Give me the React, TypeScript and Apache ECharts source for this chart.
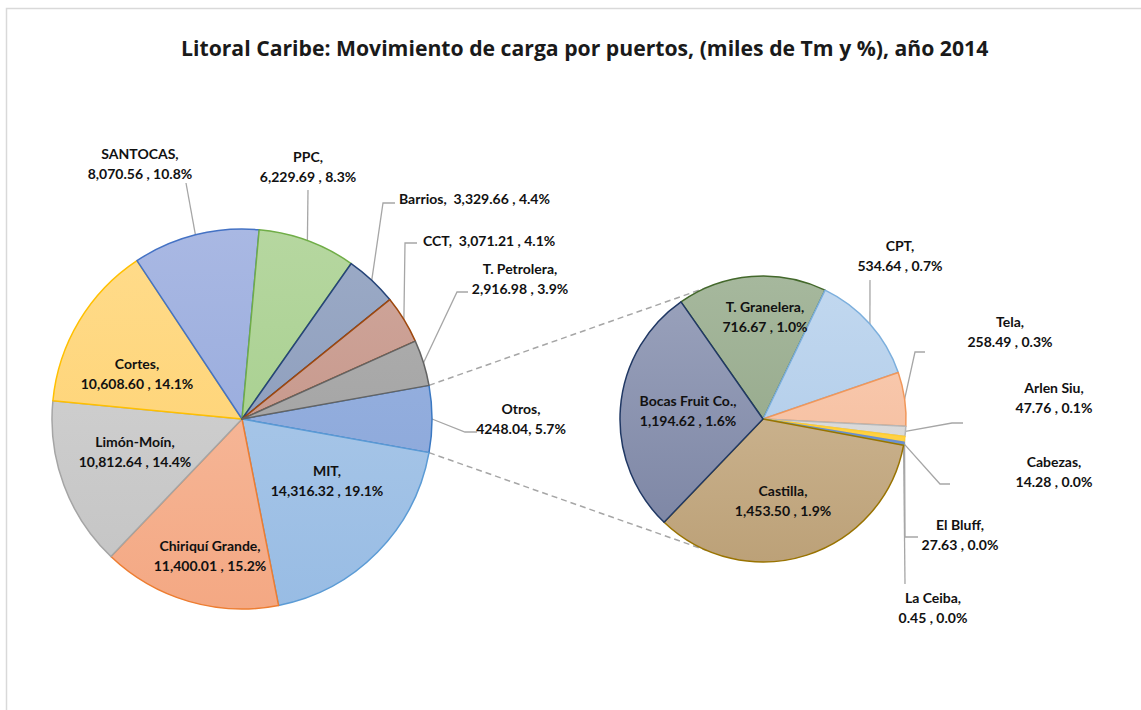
import React, { useEffect, useRef } from "react";
import * as echarts from "echarts";

const TITLE = "Litoral Caribe: Movimiento de carga por puertos, (miles de Tm y %), año 2014";

// Main pie (clockwise from the "Otros" slice)
const mainNames = ["Otros", "MIT", "Chiriquí Grande", "Limón-Moín", "Cortes", "SANTOCAS", "PPC", "Barrios", "CCT", "T. Petrolera"];
const mainValues = [4248.04, 14316.32, 11400.01, 10812.64, 10608.6, 8070.56, 6229.69, 3329.66, 3071.21, 2916.98];

// Second pie: breakdown of "Otros" (clockwise)
const subNames = ["T. Granelera", "CPT", "Tela", "Arlen Siu", "El Bluff", "Cabezas", "La Ceiba", "Castilla", "Bocas Fruit Co."];
const subValues = [716.67, 534.64, 258.49, 47.76, 27.63, 14.28, 0.45, 1453.5, 1194.62];

// ---- layout & style (not data) ----
const W = 1141, H = 710;
const MC = [242, 419], MR = 190;
const SC = [763, 419], SR = 143;
const SUB_START = 125;
const FONT = "Lato, 'Open Sans', sans-serif";

type Sty = { top: string; bottom: string; border: string };
const styles: Record<string, Sty> = {
  "Otros": { top: "#9cb5e1", bottom: "#86a3d8", border: "#3a78c2" },
  "MIT": { top: "#b2cdea", bottom: "#98bce4", border: "#5b9bd5" },
  "Chiriquí Grande": { top: "#f7c2a8", bottom: "#f4a883", border: "#ed7d31" },
  "Limón-Moín": { top: "#d6d6d6", bottom: "#c3c3c3", border: "#a5a5a5" },
  "Cortes": { top: "#ffdc8c", bottom: "#fecf6a", border: "#ffc000" },
  "SANTOCAS": { top: "#a9b8e3", bottom: "#8ea4d9", border: "#4472c4" },
  "PPC": { top: "#b6d7a0", bottom: "#9ecb84", border: "#70ad47" },
  "Barrios": { top: "#9cabc7", bottom: "#8495b5", border: "#264478" },
  "CCT": { top: "#d0a89d", bottom: "#c08c7f", border: "#9e480e" },
  "T. Petrolera": { top: "#b1b1b1", bottom: "#9b9b9b", border: "#636363" },
  "T. Granelera": { top: "#a6b89d", bottom: "#8da182", border: "#43682b" },
  "CPT": { top: "#c2d8ef", bottom: "#aac8e8", border: "#7cafdd" },
  "Tela": { top: "#f9cfb7", bottom: "#f5b794", border: "#f1975a" },
  "Arlen Siu": { top: "#e0e0e0", bottom: "#d4d4d4", border: "#b7b7b7" },
  "El Bluff": { top: "#ffd656", bottom: "#ffcd33", border: "#ffcd33" },
  "Cabezas": { top: "#7396d3", bottom: "#698ed0", border: "#698ed0" },
  "La Ceiba": { top: "#93c570", bottom: "#8cc168", border: "#8cc168" },
  "Castilla": { top: "#d6c09f", bottom: "#bca178", border: "#997300" },
  "Bocas Fruit Co.": { top: "#9ba3bd", bottom: "#7a83a2", border: "#203864" },
};

// label anchor, and leader end offset (ex, ey) relative to the anchor, with an optional horizontal elbow
type LP = { x: number; y: number; align?: "left" | "center"; inside?: boolean; oneLine?: boolean; ex?: number; ey?: number; elbow?: number };
const labelPos: Record<string, LP> = {
  "SANTOCAS": { x: 140, y: 163, ex: 46, ey: 20 },
  "PPC": { x: 308, y: 166, ex: 0, ey: 24 },
  "Barrios": { x: 399, y: 198, align: "left", oneLine: true, ex: -4, ey: 5, elbow: 12 },
  "CCT": { x: 423, y: 240, align: "left", oneLine: true, ex: -6, ey: 3, elbow: 12 },
  "T. Petrolera": { x: 520, y: 278, ex: -52, ey: 14, elbow: 11 },
  "Otros": { x: 521, y: 418, ex: -44, ey: 14, elbow: 12 },
  "Cortes": { x: 137, y: 373, inside: true },
  "Limón-Moín": { x: 135, y: 451, inside: true },
  "Chiriquí Grande": { x: 210, y: 555, inside: true },
  "MIT": { x: 327, y: 480, inside: true },
  "T. Granelera": { x: 765, y: 316, inside: true },
  "Bocas Fruit Co.": { x: 688, y: 410, inside: true },
  "Castilla": { x: 783, y: 500, inside: true },
  "CPT": { x: 900, y: 255, ex: -30, ey: 25 },
  "Tela": { x: 1010, y: 331, ex: -85, ey: 21, elbow: 10 },
  "Arlen Siu": { x: 1054, y: 397, ex: -91, ey: 26, elbow: 11 },
  "Cabezas": { x: 1054, y: 471, ex: -104, ey: 13, elbow: 10 },
  "El Bluff": { x: 960, y: 534, ex: -42, ey: 3, elbow: 13 },
  "La Ceiba": { x: 933, y: 607, ex: -28, ey: -23 },
};

const total = mainValues.reduce((a, b) => a + b, 0);
const fmt = (v: number) => v.toLocaleString("en-US", { minimumFractionDigits: 2, maximumFractionDigits: 2 });
const pct = (v: number) => ((v / total) * 100).toFixed(1) + "%";

function labelText(name: string, v: number) {
  const lp = labelPos[name];
  if (name === "Otros") return `${name},\n${v.toFixed(2)}, ${pct(v)}`;
  if (lp && lp.oneLine) return `${name},  ${fmt(v)} , ${pct(v)}`;
  return `${name},\n${fmt(v)} , ${pct(v)}`;
}

// mid angle (degrees, ECharts convention) of each slice, from the data
function midAngles(values: number[], start: number) {
  const sum = values.reduce((a, b) => a + b, 0);
  let a = start;
  return values.map((v) => {
    const span = (v / sum) * 360;
    const mid = a - span / 2;
    a -= span;
    return mid;
  });
}

function makeItems(names: string[], values: number[], c: number[], r: number) {
  return names.map((n, i) => {
    const s = styles[n];
    const lp = labelPos[n];
    return {
      name: n,
      value: values[i],
      itemStyle: {
        color: new echarts.graphic.LinearGradient(0, c[1] - r, 0, c[1] + r, [
          { offset: 0, color: s.top },
          { offset: 1, color: s.bottom },
        ], true),
        borderColor: s.border,
        borderWidth: 1.5,
      },
      label: { position: lp.inside ? "inside" : "outside" },
      labelLine: { show: !lp.inside },
    };
  });
}

function layoutFor(names: string[], values: number[], start: number, c: number[], r: number) {
  const mids = midAngles(values, start);
  return (p: any) => {
    const lp = labelPos[names[p.dataIndex]];
    const out: any = {
      x: lp.x,
      y: lp.y,
      align: lp.align || "center",
      verticalAlign: "middle",
      hideOverlap: false,
    };
    if (!lp.inside) {
      const t = (mids[p.dataIndex] * Math.PI) / 180;
      const edge = [c[0] + r * Math.cos(t), c[1] - r * Math.sin(t)];
      const end = [lp.x + (lp.ex || 0), lp.y + (lp.ey || 0)];
      const pts = [edge];
      if (lp.elbow) pts.push([end[0] - lp.elbow, end[1]]);
      pts.push(end);
      out.labelLinePoints = pts;
    }
    return out;
  };
}

export default function App() {
  const ref = useRef<HTMLDivElement>(null);
  useEffect(() => {
    if (!ref.current) return;
    const chart = echarts.init(ref.current, null, { renderer: "svg" });

    const otrosAng = (mainValues[0] / total) * 360;
    const mainStart = otrosAng / 2;
    const half = (mainStart * Math.PI) / 180;
    const phi = (113 * Math.PI) / 180;
    const conn = [1, -1].map((s) => ({
      type: "line",
      silent: true,
      z: 0,
      shape: {
        x1: MC[0] + MR * Math.cos(half),
        y1: MC[1] - s * MR * Math.sin(half),
        x2: SC[0] + SR * Math.cos(phi),
        y2: SC[1] - s * SR * Math.sin(phi),
      },
      style: { stroke: "#a6a6a6", lineWidth: 1.5, lineDash: [6, 4] },
    }));

    const labelBase = {
      show: true,
      formatter: (p: any) => labelText(p.name, p.value),
      fontFamily: FONT,
      fontWeight: "bold",
      fontSize: 14,
      lineHeight: 20,
      color: "#111",
    };
    const lineStyle = { color: "#a6a6a6", width: 1.3 };

    chart.setOption({
      animation: false,
      backgroundColor: "#ffffff",
      title: {
        text: TITLE,
        left: 176,
        top: 32,
        textStyle: { fontFamily: "'Open Sans', sans-serif", fontWeight: "bold", fontSize: 21.2, color: "#1a1a1a" },
      },
      graphic: [
        {
          type: "rect",
          silent: true,
          shape: { x: 6.5, y: 8.5, width: W + 50, height: H + 50 },
          style: { fill: "none", stroke: "#d9d9d9", lineWidth: 1.5 },
        },
        ...conn,
      ],
      series: [
        {
          type: "pie",
          center: MC,
          radius: MR,
          startAngle: mainStart,
          clockwise: true,
          avoidLabelOverlap: false,
          data: makeItems(mainNames, mainValues, MC, MR),
          label: labelBase,
          labelLine: { show: true, length: 10, length2: 10, lineStyle },
          labelLayout: layoutFor(mainNames, mainValues, mainStart, MC, MR),
          emphasis: { disabled: true },
        },
        {
          type: "pie",
          center: SC,
          radius: SR,
          startAngle: SUB_START,
          clockwise: true,
          avoidLabelOverlap: false,
          data: makeItems(subNames, subValues, SC, SR),
          label: labelBase,
          labelLine: { show: true, length: 10, length2: 10, lineStyle },
          labelLayout: layoutFor(subNames, subValues, SUB_START, SC, SR),
          emphasis: { disabled: true },
        },
      ],
    });
    return () => chart.dispose();
  }, []);

  return (
    <div style={{ position: "fixed", left: 0, top: 0, width: W, height: H, overflow: "hidden", background: "#fff" }}>
      <div ref={ref} style={{ width: W, height: H }} />
    </div>
  );
}
